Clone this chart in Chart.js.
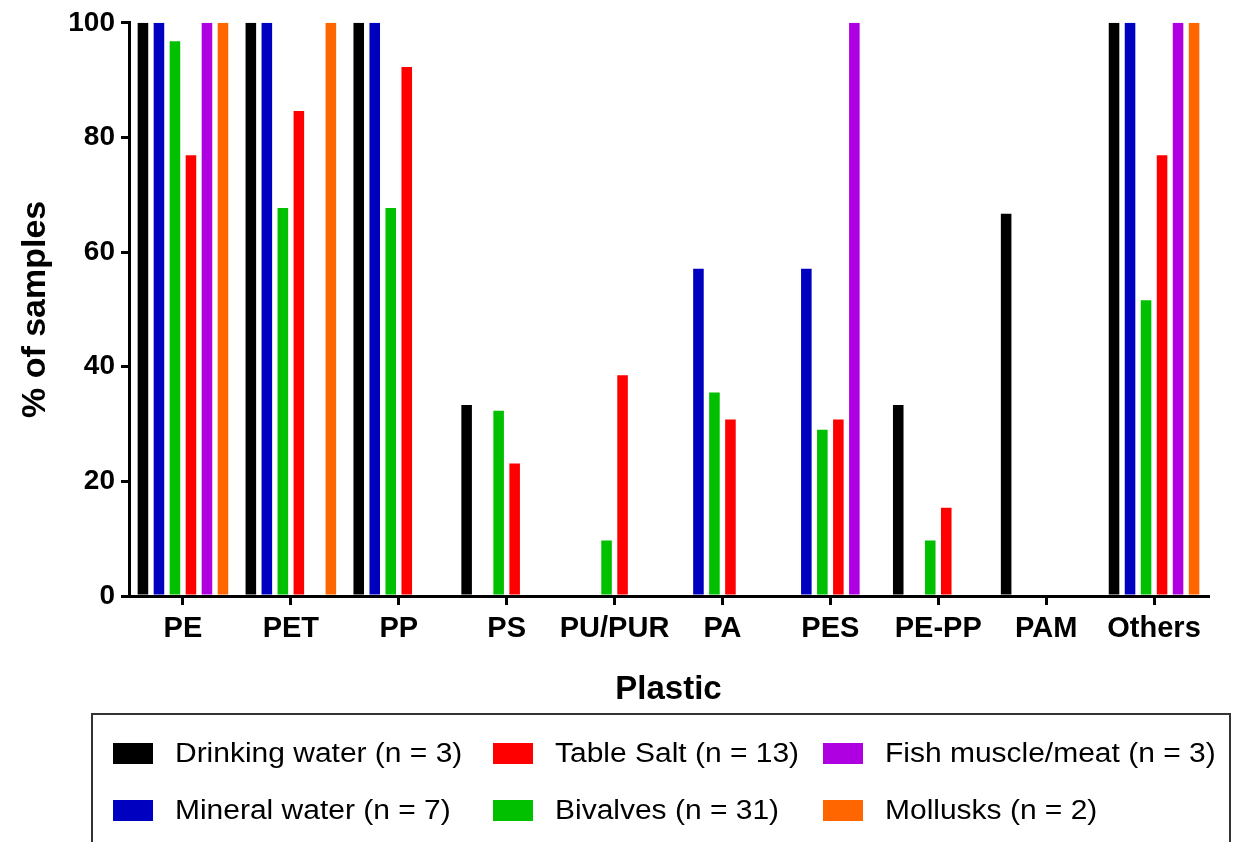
<!DOCTYPE html>
<html><head><meta charset="utf-8">
<script src="https://cdn.jsdelivr.net/npm/chart.js@4.4.0/dist/chart.umd.min.js"></script>
<style>
html,body{margin:0;padding:0;background:#fff;overflow:hidden}
#wrap{position:relative;width:1238px;height:842px;background:#fff}
#c{position:absolute;left:0;top:0}
#legendBox{position:absolute;left:91px;top:713px;width:1140px;height:140px;border:2px solid #333;border-bottom:none;box-sizing:border-box}
.item{position:absolute;height:30px;display:flex;align-items:center;white-space:nowrap}
.sw{width:40px;height:21px;margin-right:22px;flex:none}
.tx{font-family:"Liberation Sans",Arial,sans-serif;font-size:27px;color:#000;transform:scaleX(1.11);transform-origin:left center;display:inline-block}
</style>
</head><body>
<div id="wrap">
<canvas id="c" width="1238" height="842"></canvas>
<div id="legendBox"></div>
</div>
<script>
const categories = ['PE','PET','PP','PS','PU/PUR','PA','PES','PE-PP','PAM','Others'];
const yTicks = [0,20,40,60,80,100];
const seriesLabels = ['Drinking water (n = 3)','Mineral water (n = 7)','Bivalves (n = 31)','Table Salt (n = 13)','Fish muscle/meat (n = 3)','Mollusks (n = 2)'];
const seriesColors = ['#000000','#0000C0','#00C000','#FF0000','#AE00E0','#FF6600'];
const drinkingWater = [100,100,100,33.3,0,0,0,33.3,66.7,100];
const mineralWater  = [100,100,100,0,0,57.1,57.1,0,0,100];
const bivalves      = [96.8,67.7,67.7,32.3,9.7,35.5,29.0,9.7,0,51.6];
const tableSalt     = [76.9,84.6,92.3,23.1,38.5,30.8,30.8,15.4,0,76.9];
const fishMuscle    = [100,0,0,0,0,0,100,0,0,100];
const mollusks      = [100,100,0,0,0,0,0,0,0,100];
const seriesValues = [drinkingWater, mineralWater, bivalves, tableSalt, fishMuscle, mollusks];
// legend grid: rows of dataset indices
const legendRows = [[0,3,4],[1,2,5]];

const FONT = '"Liberation Sans", Arial, Helvetica, sans-serif';
const datasets = seriesValues.map((v,i)=>({
  label: seriesLabels[i],
  data: v,
  backgroundColor: seriesColors[i],
  borderWidth: 0,
  categoryPercentage: 0.89,
  barPercentage: 0.66
}));

const chart = new Chart(document.getElementById('c'), {
  type: 'bar',
  data: { labels: categories, datasets },
  options: {
    responsive: false,
    animation: false,
    devicePixelRatio: 1,
    layout: { padding: { left: 0, top: 20, right: 30, bottom: 128 } },
    plugins: { legend: { display: false }, tooltip: { enabled: false } },
    scales: {
      x: {
        offset: true,
        grid: { offset: false, drawOnChartArea: false, drawTicks: true, tickLength: 9, lineWidth: 3, color: '#000' },
        border: { display: true, width: 3, color: '#000' },
        ticks: { color: '#000', padding: 7, maxRotation: 0, autoSkip: false, font: { family: FONT, size: 29, weight: 'bold' } },
        title: { display: true, text: 'Plastic', color: '#000', padding: { top: 0, bottom: 4 }, font: { family: FONT, size: 33, weight: 'bold' } },
        afterFit: s => { s.height = 118; }
      },
      y: {
        min: 0, max: 100,
        afterBuildTicks: s => { s.ticks = yTicks.map(v => ({ value: v })); },
        grid: { drawOnChartArea: false, drawTicks: true, tickLength: 8, lineWidth: 3, color: '#000' },
        border: { display: true, width: 3, color: '#000' },
        ticks: { color: '#000', padding: 6, font: { family: FONT, size: 28, weight: 'bold' } },
        title: { display: true, text: '% of samples', color: '#000', padding: { top: 15, bottom: 0 }, font: { family: FONT, size: 34, weight: 'bold' } },
        afterFit: s => { s.width = 129; }
      }
    }
  }
});

// HTML legend built from the chart's datasets
const colX = [113, 493, 823];
const rowY = [753, 810];
const wrap = document.getElementById('wrap');
legendRows.forEach((row, r) => {
  row.forEach((di, c) => {
    const ds = chart.data.datasets[di];
    const it = document.createElement('div');
    it.className = 'item';
    it.style.left = colX[c] + 'px';
    it.style.top = (rowY[r] - 15) + 'px';
    const sw = document.createElement('span');
    sw.className = 'sw';
    sw.style.background = ds.backgroundColor;
    const tx = document.createElement('span');
    tx.className = 'tx';
    tx.textContent = ds.label;
    it.appendChild(sw); it.appendChild(tx);
    wrap.appendChild(it);
  });
});
</script>
</body></html>
